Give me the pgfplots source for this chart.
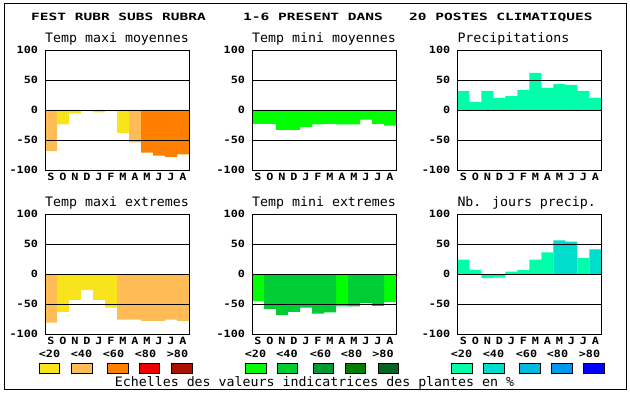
\documentclass[border=0pt]{standalone}
\usepackage{pgfplots}
\pgfplotsset{compat=1.18}
\usepackage{fontspec}
\newfontfamily\tfont{DejaVu Sans Mono}[FakeStretch=1.02]
\newfontfamily\bfont{DejaVu Sans Mono}[FakeStretch=1.18]
\newfontfamily\mfont{DejaVu Sans Mono}[FakeStretch=1.45]
\definecolor{cY}{HTML}{F8E41C}
\definecolor{cLO}{HTML}{FFBB55}
\definecolor{cOR}{HTML}{FF8000}
\definecolor{cRD}{HTML}{EE0000}
\definecolor{cDR}{HTML}{AA1100}
\definecolor{cG1}{HTML}{00FF00}
\definecolor{cG2}{HTML}{00CC33}
\definecolor{cG3}{HTML}{009933}
\definecolor{cG4}{HTML}{007D00}
\definecolor{cG5}{HTML}{006622}
\definecolor{cB1}{HTML}{00FFAA}
\definecolor{cB2}{HTML}{00DDCC}
\definecolor{cB3}{HTML}{00BBDD}
\definecolor{cB4}{HTML}{0099EE}
\definecolor{cB5}{HTML}{0000FF}
\pgfplotsset{
  panel/.style={scale only axis, width=144pt, height=120pt,
    anchor=south west,
    xmin=-0.5, xmax=11.5, ymin=-100, ymax=100,
    ytick={-100,-50,0,50,100}, yticklabels={-100,-50,0,50,100},
    xtick={0,...,11}, xticklabels={S,O,N,D,J,F,M,A,M,J,J,A},
    major tick length=0pt,
    ymajorgrids, grid style={black, line width=0.8pt},
    axis line style={line width=0.8pt},
    axis on top,
    tick label style={font=\bfont\bfseries\fontsize{10}{10}\selectfont},
    yticklabel style={xshift=-3.5pt}},
  mybar/.style={ybar, bar width=1, bar shift=0pt, draw=none, fill=#1}
}
\newcommand{\ttl}{\tfont\fontsize{13}{13}\selectfont}
\newcommand{\lbl}{\bfont\bfseries\fontsize{10}{10}\selectfont}
\begin{document}
\begin{tikzpicture}[x=1pt,y=1pt]
\useasboundingbox (0,0) rectangle (630,394);
\draw[line width=0.8pt] (4.5,4.5) rectangle (626,391);
% main title
\node[anchor=base west, inner sep=0] at (31,373) {\mfont\bfseries\fontsize{10}{10}\selectfont FEST RUBR SUBS RUBRA};
\node[anchor=base west, inner sep=0] at (243,373) {\mfont\bfseries\fontsize{10}{10}\selectfont 1-6 PRESENT DANS};
\node[anchor=base west, inner sep=0] at (409,373) {\mfont\bfseries\fontsize{10}{10}\selectfont 20 POSTES CLIMATIQUES};
% panel titles
\node[anchor=base west, inner sep=0] at (45,351.3) {\ttl Temp maxi moyennes};
\node[anchor=base west, inner sep=0] at (252,351.3) {\ttl Temp mini moyennes};
\node[anchor=base west, inner sep=0] at (457.3,351.3) {\ttl Precipitations};
\node[anchor=base west, inner sep=0] at (45,187) {\ttl Temp maxi extremes};
\node[anchor=base west, inner sep=0] at (252,187) {\ttl Temp mini extremes};
\node[anchor=base west, inner sep=0] at (457.3,187) {\ttl Nb. jours precip.};

% Panel 1: Temp maxi moyennes
\begin{axis}[panel, at={(45pt,224pt)}]
\addplot[mybar=cLO] coordinates {(0,-68) (7,-54)};
\addplot[mybar=cY] coordinates {(1,-24) (2,-6) (3,-2) (4,-4) (5,-2) (6,-38)};
\addplot[mybar=cOR] coordinates {(8,-71) (9,-76) (10,-78) (11,-74)};
\end{axis}
% Panel 2: Temp mini moyennes
\begin{axis}[panel, at={(252pt,224pt)}]
\addplot[mybar=cG1] coordinates {(0,-23) (1,-23) (2,-33) (3,-33) (4,-28) (5,-24) (6,-23) (7,-24) (8,-24) (9,-16) (10,-23) (11,-26)};
\end{axis}
% Panel 3: Precipitations
\begin{axis}[panel, at={(457.3pt,224pt)}]
\addplot[mybar=cB1] coordinates {(0,32) (1,13) (2,32) (3,20) (4,23) (5,33) (6,62) (7,37) (8,43) (9,42) (10,32) (11,20)};
\end{axis}
% Panel 4: Temp maxi extremes
\begin{axis}[panel, at={(45pt,60pt)}]
\addplot[mybar=cLO] coordinates {(0,-81) (6,-76) (7,-76) (8,-78) (9,-78) (10,-76) (11,-78)};
\addplot[mybar=cY] coordinates {(1,-63) (2,-43) (3,-27) (4,-43) (5,-56)};
\end{axis}
% Panel 5: Temp mini extremes
\begin{axis}[panel, at={(252pt,60pt)}]
\addplot[mybar=cG1] coordinates {(0,-45) (7,-54) (11,-47)};
\addplot[mybar=cG2] coordinates {(1,-58) (2,-68) (3,-63) (4,-56) (5,-66) (6,-64) (8,-54) (9,-48) (10,-53)};
\end{axis}
% Panel 6: Nb. jours precip.
\begin{axis}[panel, at={(457.3pt,60pt)}]
\addplot[mybar=cB1] coordinates {(0,24) (1,7) (2,-7) (3,-6) (4,4) (5,7) (6,24) (7,36) (10,27)};
\addplot[mybar=cB2] coordinates {(8,56) (9,54) (11,41)};
\end{axis}

% legend labels
\foreach \x/\t in {49.5/<20, 81.5/<40, 113.5/<60, 145.5/<80, 177.5/>80,
                   255.5/<20, 287/<40, 320.5/<60, 351.5/<80, 383/>80,
                   461.5/<20, 493.5/<40, 526.5/<60, 557.5/<80, 589.5/>80}
  \node[anchor=base, inner sep=0] at (\x,36.7) {\lbl \t};
% legend swatches
\foreach \a/\b/\c in {39/59/cY, 71/92/cLO, 107/128/cOR, 139/159/cRD, 171/192/cDR,
                      245/266/cG1, 277/297/cG2, 313/333/cG3, 345/365/cG4, 378/398/cG5,
                      451/472/cB1, 483/504/cB2, 519/540/cB3, 551/572/cB4, 583/604/cB5}
  \draw[fill=\c, line width=0.8pt] (\a,20.7) rectangle (\b,30.7);
\node[anchor=base, inner sep=0] at (314.5,7.5) {\ttl Echelles des valeurs indicatrices des plantes en \%};
\end{tikzpicture}
\end{document}
